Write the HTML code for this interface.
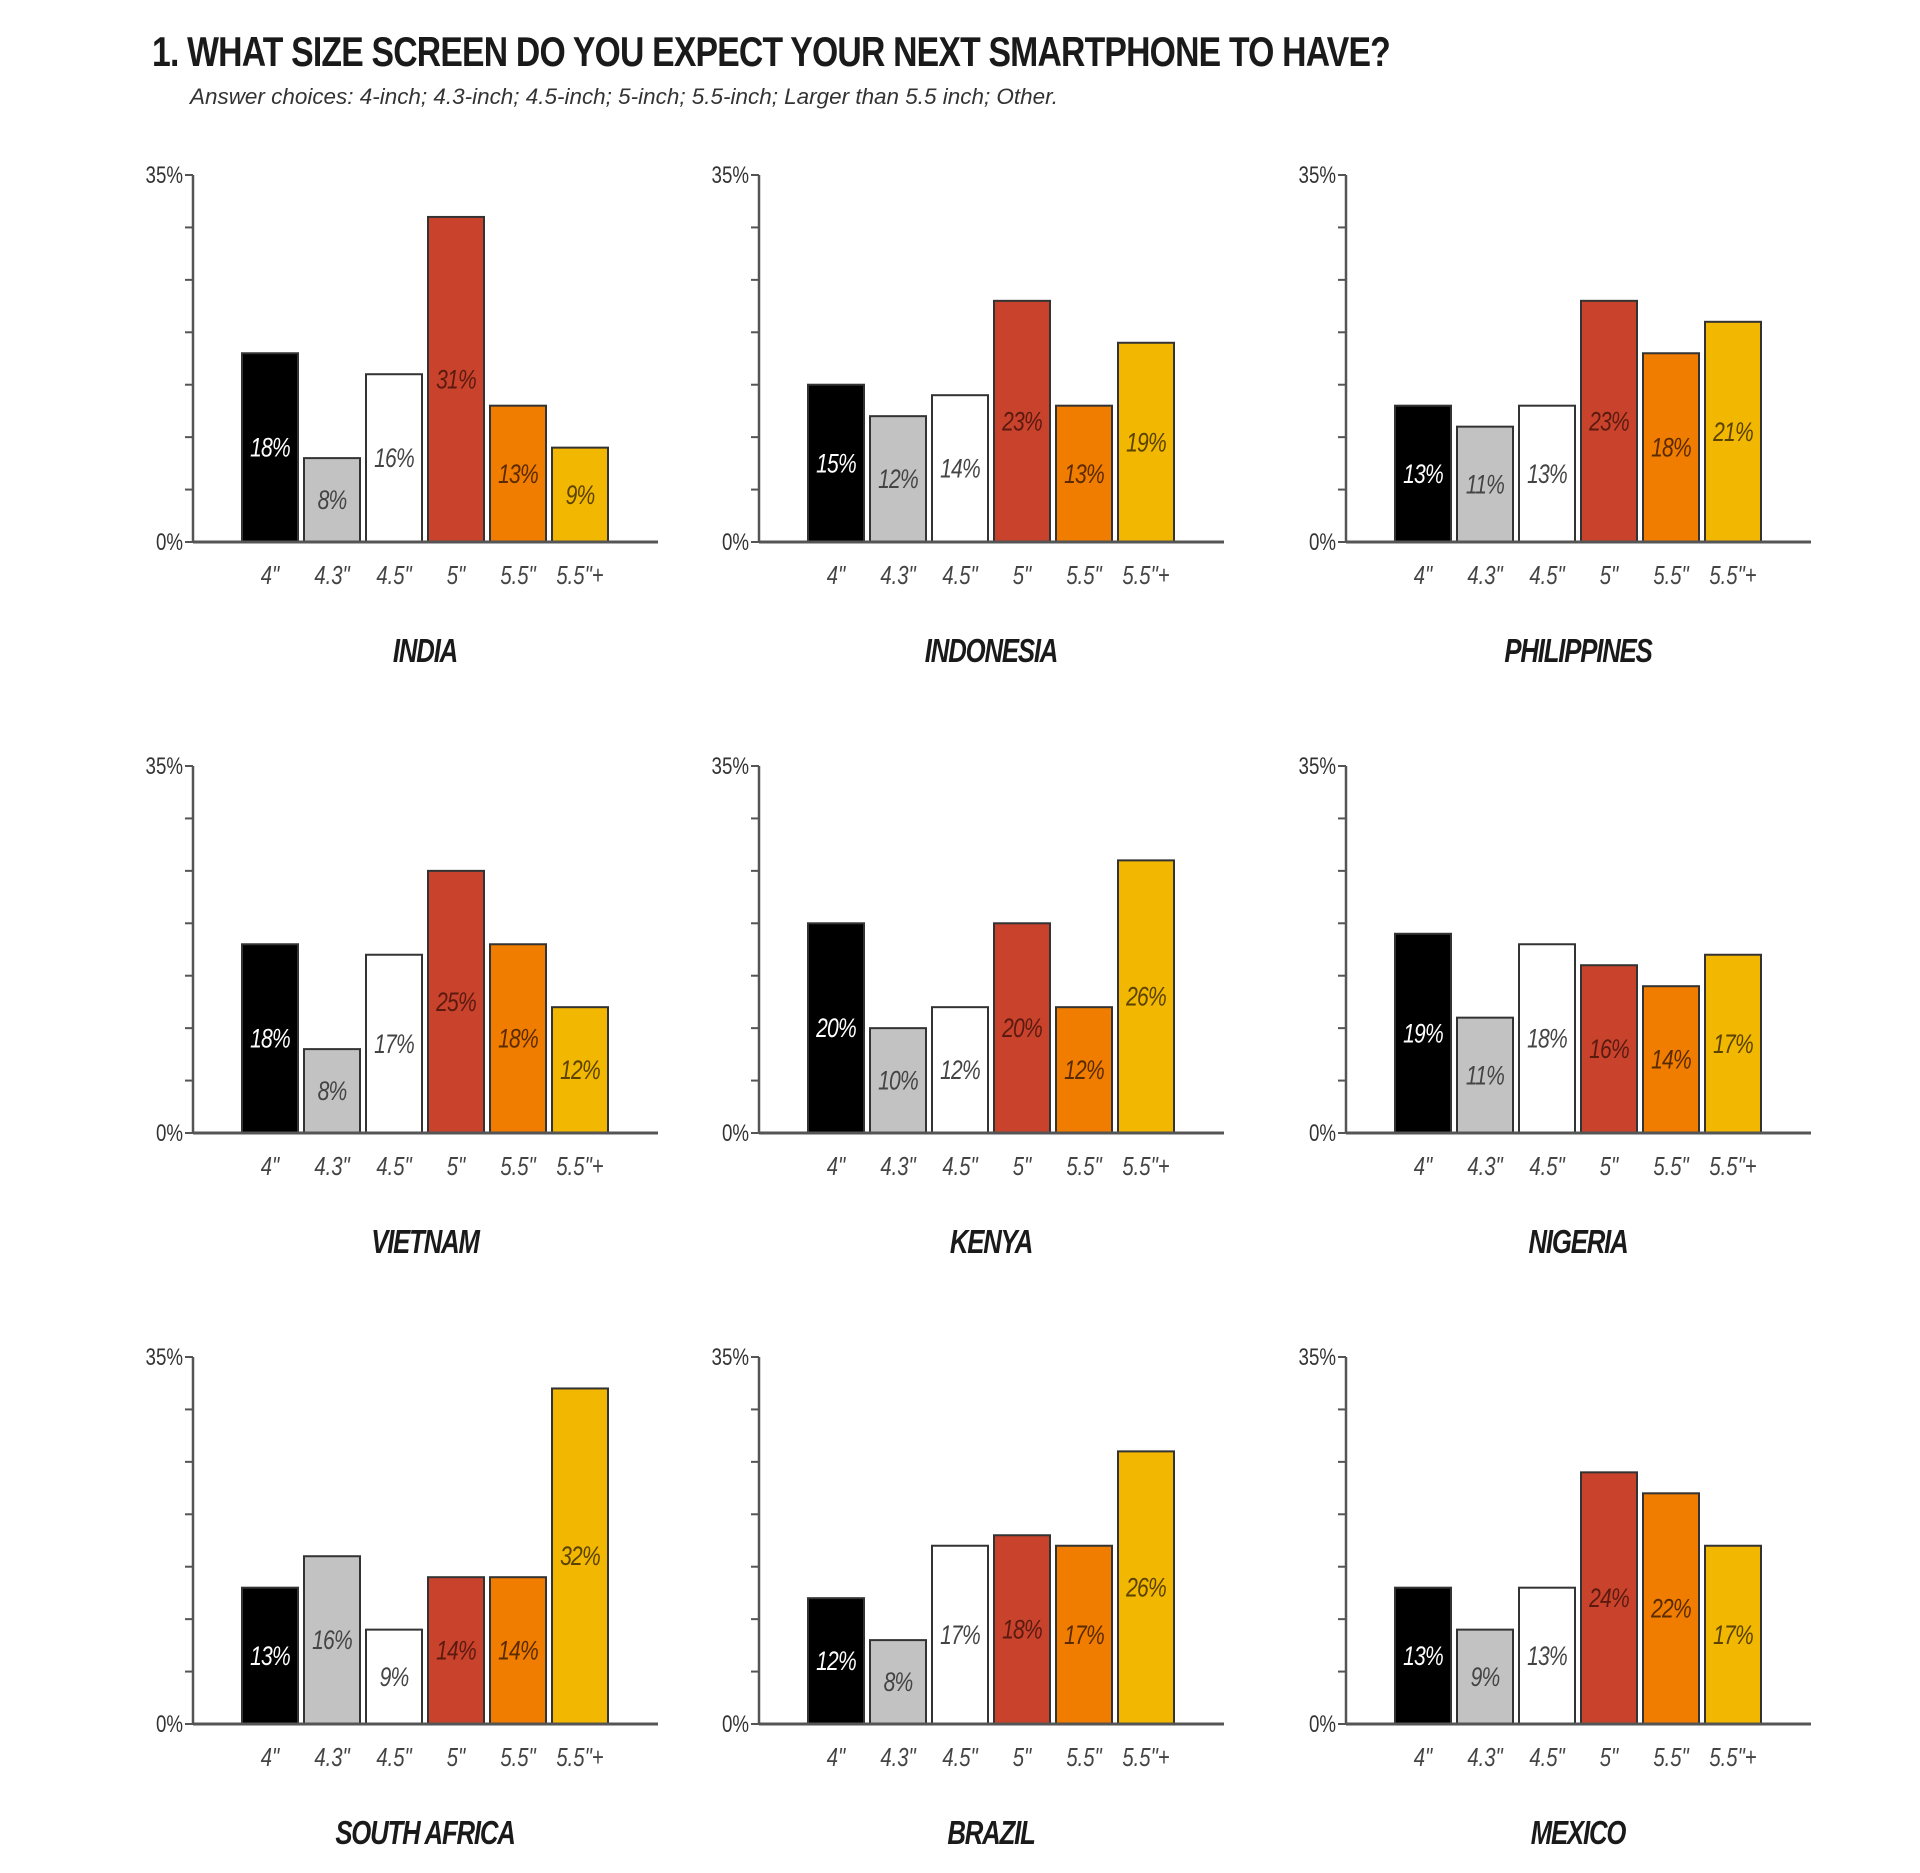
<!DOCTYPE html>
<html><head><meta charset="utf-8"><style>
body{margin:0;background:#fff;width:1920px;height:1873px;overflow:hidden}
svg{display:block}
text{font-family:"Liberation Sans Narrow","Liberation Sans",sans-serif}
</style></head><body>
<svg id="chart" width="1920" height="1873" xmlns="http://www.w3.org/2000/svg">
<text x="152" y="66" font-size="42" font-weight="bold" letter-spacing="-1" textLength="1238" lengthAdjust="spacingAndGlyphs" fill="#1a1a1a">1. WHAT SIZE SCREEN DO YOU EXPECT YOUR NEXT SMARTPHONE TO HAVE?</text>
<text x="190" y="104" font-size="22" font-style="italic" textLength="868" lengthAdjust="spacingAndGlyphs" fill="#333">Answer choices: 4-inch; 4.3-inch; 4.5-inch; 5-inch; 5.5-inch; Larger than 5.5 inch; Other.</text>
</svg>
<script>
const categories = ['4"','4.3"','4.5"','5"','5.5"','5.5"+'];
const countries = ['INDIA','INDONESIA','PHILIPPINES','VIETNAM','KENYA','NIGERIA','SOUTH AFRICA','BRAZIL','MEXICO'];
const india = [18,8,16,31,13,9];
const indonesia = [15,12,14,23,13,19];
const philippines = [13,11,13,23,18,21];
const vietnam = [18,8,17,25,18,12];
const kenya = [20,10,12,20,12,26];
const nigeria = [19,11,18,16,14,17];
const southAfrica = [13,16,9,14,14,32];
const brazil = [12,8,17,18,17,26];
const mexico = [13,9,13,24,22,17];
const yTickLabels = ['0%','35%'];
const seriesList = [india,indonesia,philippines,vietnam,kenya,nigeria,southAfrica,brazil,mexico];

const fills = ['#000000','#c2c2c2','#ffffff','#c9432c','#f07d00','#f2b700'];
const labelColors = ['#ffffff','#444444','#444444','#5a1a10','#5a2a00','#5a4200'];
const colX = [193,759,1346];
const rowY = [542,1133,1724];
const H = 367, YMAX = 35, PITCH = 62, BW = 56, OFF0 = 49, AXLEN = 465, SX = 0.78;
const NS = 'http://www.w3.org/2000/svg';
const svg = document.getElementById('chart');
function mk(tag, attrs, parent){const e=document.createElementNS(NS,tag);for(const k in attrs)e.setAttribute(k,attrs[k]);(parent||svg).appendChild(e);return e;}
function txt(x, y, attrs, parent){return mk('text', Object.assign({x:0, y:0, transform:'translate('+x+','+y+') scale('+SX+',1)'}, attrs), parent);}

seriesList.forEach((vals, i) => {
  const ax = colX[i%3], zy = rowY[Math.floor(i/3)];
  const y = v => zy - v / YMAX * H;
  const x = j => ax + OFF0 + j * PITCH;
  const g = mk('g', {});
  
  
  for (let t = 0; t <= 35; t += 5) {
    const tk = mk('line', {x1: ax - 8, x2: ax, y1: y(t), y2: y(t), stroke: '#555', 'stroke-width': 2}, g);
    
    
  }
  [0, 35].forEach((t, k) => {
    const tl = txt(ax - 10, y(t) + 8, {'text-anchor': 'end', 'font-size': 24, fill: '#333'}, g);
    tl.textContent = yTickLabels[k];
    
    
  });
  vals.forEach((v, j) => {
    const r = mk('rect', {x: x(j), y: y(v), width: BW, height: zy - y(v), fill: fills[j], stroke: '#333', 'stroke-width': 2}, g);
    
    
    const lt = txt(x(j) + BW/2, (y(v) + zy)/2 + 9, {'text-anchor': 'middle', 'font-size': 27, 'font-style': 'italic', fill: labelColors[j], 'letter-spacing': -1}, g);
    lt.textContent = v + '%';
    
    
    const cl = txt(x(j) + BW/2, zy + 42, {'text-anchor': 'middle', 'font-size': 26, 'font-style': 'italic', fill: '#444'}, g);
    cl.textContent = categories[j];
    
    
  });
  const ya = mk('line', {x1: ax, x2: ax, y1: y(35), y2: zy, stroke: '#555', 'stroke-width': 2.5}, g);
  
  
  const xa = mk('line', {x1: ax, x2: ax + AXLEN, y1: zy, y2: zy, stroke: '#555', 'stroke-width': 3}, g);
  
  
  const ct = txt(ax + OFF0 + 2.5*PITCH + BW/2, zy + 120, {'text-anchor': 'middle', 'font-size': 33, 'font-weight': 'bold', 'font-style': 'italic', 'letter-spacing': -1.5, fill: '#1a1a1a'}, g);
  ct.textContent = countries[i];
  
  
});
</script>
</body></html>
